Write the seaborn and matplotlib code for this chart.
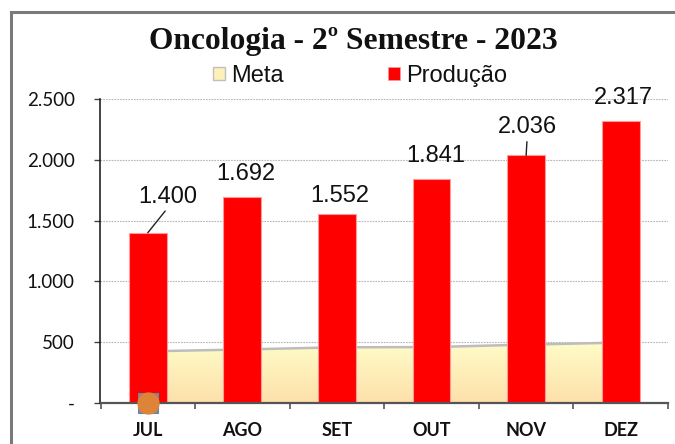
import numpy as np
import pandas as pd
import matplotlib
matplotlib.use('Agg')
import matplotlib.pyplot as plt
from matplotlib.colors import LinearSegmentedColormap
from matplotlib.patches import Patch, Rectangle
import seaborn as sns

# Dados do grafico
meses = ['JUL', 'AGO', 'SET', 'OUT', 'NOV', 'DEZ']
producao = [1400, 1692, 1552, 1841, 2036, 2317]
meta = [425, 440, 458, 460, 480, 497]
rotulos = ['1.400', '1.692', '1.552', '1.841', '2.036', '2.317']
ticks_y = [0, 500, 1000, 1500, 2000, 2500]
rotulos_y = ['-', '500', '1.000', '1.500', '2.000', '2.500']

# deslocamento dos rotulos em pixels, como foram arrastados no original
desloc_x = [20, 3, 3, 4, 1, 3]
desloc_y = [36, 23, 18, 23, 28, 23]

W, H = 675, 444
sns.set_theme(style='white')
plt.rcParams['font.family'] = ['Liberation Sans', 'DejaVu Sans']

df = pd.DataFrame({'mes': meses, 'producao': producao, 'meta': meta})

fig = plt.figure(figsize=(W / 100, H / 100), dpi=100)
ax = fig.add_axes([100.5 / W, 1 - 403 / H, (668 - 100.5) / W, 304 / H])

# Moldura cinza que sai pela direita e por baixo
fig.add_artist(Rectangle((11 / W, -0.1), 1, 1 - 12 / H + 0.1, transform=fig.transFigure,
                         fill=False, edgecolor='#7a7a7a', linewidth=2.2))

# Barras
sns.barplot(data=df, x='mes', y='producao', width=0.4, color='#ff0000', saturation=1,
            edgecolor='#ff9a9a', linewidth=0.8, zorder=4, ax=ax)

# Area da meta com degrade
pos = np.arange(len(meses))
area = ax.fill_between(pos, meta, 0, color='none', zorder=2)
cmap = LinearSegmentedColormap.from_list('meta', ['#fffcc8', '#fde0aa'])
img = ax.imshow(np.linspace(0, 1, 100).reshape(-1, 1), cmap=cmap, aspect='auto',
                extent=(pos[0], pos[-1], 0, max(meta)), origin='upper', zorder=2)
img.set_clip_path(area.get_paths()[0], transform=ax.transData)
sns.lineplot(data=df, x='mes', y='meta', color='#bdbdbd', linewidth=1.8, zorder=3, ax=ax)

ax.set_xlim(-0.5, 5.5)
ax.set_ylim(0, 2500)
ax.set_xlabel('')
ax.set_ylabel('')

# Eixos
ax.set_yticks(ticks_y)
ax.set_yticklabels(rotulos_y, fontsize=13.5, family=['Lato', 'DejaVu Sans'], color='#111111')
ax.set_xticks(pos)
ax.set_xticklabels(meses, fontsize=13, fontweight='bold', family=['Lato', 'DejaVu Sans'], color='#111111')
ax.set_xticks(np.arange(-0.5, 6), minor=True)
ax.tick_params(axis='x', which='major', length=0, pad=14)
ax.tick_params(axis='x', which='minor', length=4.5, width=1.2, color='#555555', bottom=True)
ax.tick_params(axis='y', length=4.5, width=1, color='#444444', left=True, pad=14)
ax.yaxis.grid(True, linestyle=(0, (1.5, 1)), linewidth=0.8, color='#b5b5b5', zorder=1)
ax.set_axisbelow(True)
for lado in ['top', 'right']:
    ax.spines[lado].set_visible(False)
ax.spines['left'].set_color('#111111')
ax.spines['left'].set_linewidth(1.1)
ax.spines['bottom'].set_color('#555555')
ax.spines['bottom'].set_linewidth(1.6)
ax.spines['bottom'].set_zorder(5)

# Rotulos de dados, com linha guia onde o rotulo foi afastado
for i, txt in enumerate(rotulos):
    guia = dict(arrowstyle='-', color='#222222', lw=1, shrinkA=0, shrinkB=0, relpos=(0.5, 0)) if i in (0, 4) else None
    ax.annotate(txt, xy=(i, producao[i]), xytext=(desloc_x[i], desloc_y[i]), textcoords='offset pixels',
                ha='center', va='center', fontsize=17, color='#111111', arrowprops=guia, zorder=6,
                annotation_clip=False)

# Forma laranja selecionada sobre o JUL
ax.plot([pos[0]], [0], marker='s', markersize=14.5, markerfacecolor='#b0787a', markeredgecolor='#5b8fa8',
        markeredgewidth=0.8, clip_on=False, zorder=7)
ax.plot([pos[0]], [0], marker='o', markersize=15, markerfacecolor='#dd8439', markeredgecolor='#dd8439',
        clip_on=False, zorder=8)

fig.text(353 / W, 1 - 42 / H, 'Oncologia - 2º Semestre - 2023', ha='center', va='center', fontsize=22.7,
         fontweight='bold', family=['Liberation Serif', 'DejaVu Serif'], color='#111111')

# Legenda
alcas = [Patch(facecolor='#fdf0b8', edgecolor='#bfbfbf', linewidth=1),
         Patch(facecolor='#ff0000', edgecolor='#ff9a9a', linewidth=0.5)]
fig.legend(alcas, ['Meta', 'Produção'], ncol=2, frameon=False, fontsize=17, handlelength=0.5, handleheight=0.5,
           handletextpad=0.25, columnspacing=4.45, labelcolor='#111111', borderpad=0, borderaxespad=0,
           loc='center left', bbox_to_anchor=(213 / W, 1 - 76 / H))

fig.savefig('out.png', dpi=100)
plt.close(fig)
